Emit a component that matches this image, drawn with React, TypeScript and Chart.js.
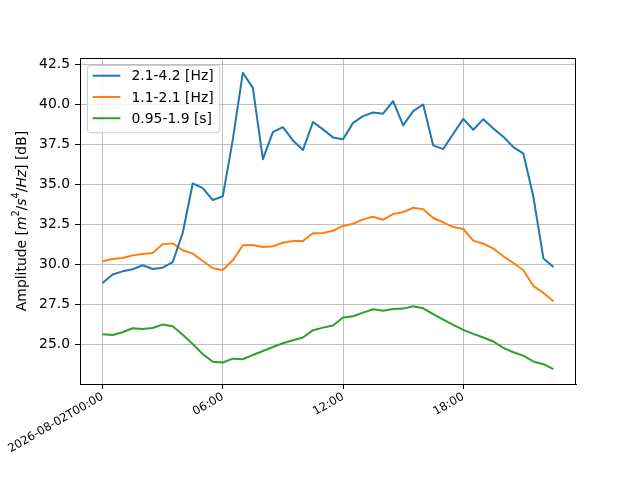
import { useEffect, useRef } from 'react';
import { Chart, registerables } from 'chart.js';

Chart.register(...registerables);

// sample times, every 30 min on 2026-08-02
const times = [
  '00:00', '00:30', '01:00', '01:30', '02:00', '02:30', '03:00', '03:30',
  '04:00', '04:30', '05:00', '05:30', '06:00', '06:30', '07:00', '07:30',
  '08:00', '08:30', '09:00', '09:30', '10:00', '10:30', '11:00', '11:30',
  '12:00', '12:30', '13:00', '13:30', '14:00', '14:30', '15:00', '15:30',
  '16:00', '16:30', '17:00', '17:30', '18:00', '18:30', '19:00', '19:30',
  '20:00', '20:30', '21:00', '21:30', '22:00', '22:30',
];

// 2.1-4.2 [Hz]
const bandHigh = [
  28.83, 29.36, 29.56, 29.69, 29.94, 29.71, 29.79, 30.14, 31.96, 35.06,
  34.77, 34.02, 34.25, 37.8, 41.98, 41.04, 36.58, 38.27, 38.58, 37.75,
  37.15, 38.9, 38.44, 37.94, 37.83, 38.85, 39.27, 39.5, 39.42, 40.21,
  38.69, 39.58, 40.0, 37.44, 37.21, 38.17, 39.1, 38.42, 39.08, 38.5,
  37.98, 37.33, 36.92, 34.21, 30.36, 29.83,
];

// 1.1-2.1 [Hz]
const bandMid = [
  30.19, 30.33, 30.4, 30.56, 30.64, 30.71, 31.25, 31.31, 30.88, 30.67,
  30.21, 29.75, 29.64, 30.25, 31.19, 31.21, 31.08, 31.13, 31.35, 31.46,
  31.46, 31.94, 31.96, 32.1, 32.4, 32.54, 32.81, 32.98, 32.79, 33.14,
  33.27, 33.54, 33.44, 32.9, 32.63, 32.33, 32.21, 31.48, 31.29, 30.98,
  30.5, 30.08, 29.63, 28.64, 28.21, 27.69,
];

// 0.95-1.9 [s]
const bandLow = [
  25.63, 25.58, 25.75, 26.0, 25.96, 26.02, 26.23, 26.13, 25.6, 25.02,
  24.38, 23.9, 23.86, 24.1, 24.06, 24.33, 24.58, 24.83, 25.06, 25.25,
  25.42, 25.88, 26.04, 26.17, 26.67, 26.75, 26.98, 27.19, 27.1, 27.21,
  27.23, 27.38, 27.25, 26.88, 26.54, 26.21, 25.9, 25.65, 25.42, 25.17,
  24.77, 24.5, 24.29, 23.92, 23.75, 23.44,
];

const seriesLabels = ['2.1-4.2 [Hz]', '1.1-2.1 [Hz]', '0.95-1.9 [s]'];
const seriesColors = ['#1f77b4', '#ff7f0e', '#2ca02c'];

const xTickHours = [0, 6, 12, 18];
const xTickLabels = ['2026-08-02T00:00', '06:00', '12:00', '18:00'];
const yTicks = [25, 27.5, 30, 32.5, 35, 37.5, 40, 42.5];

const FONT = '"DejaVu Sans", sans-serif';
const FS = 13.9;

const toHours = (t: string) => {
  const [h, m] = t.split(':').map(Number);
  return h + m / 60;
};

// full box round the plot area, like matplotlib spines
const framePlugin = {
  id: 'frame',
  afterDatasetsDraw(chart: any) {
    const { ctx, chartArea: a } = chart;
    ctx.save();
    ctx.strokeStyle = '#000';
    ctx.lineWidth = 1;
    ctx.strokeRect(Math.round(a.left) + 0.5, Math.round(a.top) + 0.5,
      Math.round(a.right - a.left) - 1, Math.round(a.bottom - a.top));
    ctx.restore();
  },
};

// legend in the upper left corner of the plot
const legendPlugin = {
  id: 'insideLegend',
  afterDraw(chart: any) {
    const { ctx, chartArea: a } = chart;
    const sets = chart.data.datasets;
    ctx.save();
    ctx.font = `${FS}px ${FONT}`;
    const textW = Math.max(...sets.map((d: any) => ctx.measureText(d.label).width));
    const pad = 0.4 * FS;
    const handle = 2 * FS;
    const gap = 0.8 * FS;
    const step = 1.53 * FS;
    const x0 = a.left + 7;
    const y0 = a.top + 7;
    const w = pad + handle + gap + textW + pad;
    const h = 4.84 * FS;
    ctx.beginPath();
    ctx.roundRect(Math.round(x0) + 0.5, Math.round(y0) + 0.5, w, h, 2.8);
    ctx.fillStyle = 'rgba(255,255,255,0.8)';
    ctx.fill();
    ctx.strokeStyle = '#cccccc';
    ctx.lineWidth = 1;
    ctx.stroke();
    ctx.textAlign = 'left';
    ctx.textBaseline = 'middle';
    sets.forEach((d: any, i: number) => {
      const cy = y0 + 10.7 + i * step;
      ctx.beginPath();
      ctx.moveTo(x0 + pad, cy);
      ctx.lineTo(x0 + pad + handle, cy);
      ctx.strokeStyle = d.borderColor;
      ctx.lineWidth = 2;
      ctx.stroke();
      ctx.fillStyle = '#000';
      ctx.fillText(d.label, x0 + pad + handle + gap, cy + 1);
    });
    ctx.restore();
  },
};

// y axis title with mathtext-like italics and superscripts
const yTitleParts = [
  { t: 'Amplitude [', s: 'n' },
  { t: 'm', s: 'i' },
  { t: '2', s: 'sup' },
  { t: '/', s: 'n' },
  { t: 's', s: 'i' },
  { t: '4', s: 'sup' },
  { t: '/', s: 'n' },
  { t: 'Hz', s: 'i' },
  { t: '] [dB]', s: 'n' },
];

const yTitlePlugin = {
  id: 'yTitle',
  afterDraw(chart: any) {
    const { ctx, chartArea: a } = chart;
    const fontOf = (s: string) =>
      s === 'i' ? `italic ${FS}px ${FONT}` : s === 'sup' ? `${FS * 0.7}px ${FONT}` : `${FS}px ${FONT}`;
    ctx.save();
    let total = 0;
    const widths = yTitleParts.map((p) => {
      ctx.font = fontOf(p.s);
      const wd = ctx.measureText(p.t).width;
      total += wd;
      return wd;
    });
    ctx.translate(a.left - 58, (a.top + a.bottom) / 2);
    ctx.rotate(-Math.PI / 2);
    ctx.fillStyle = '#000';
    ctx.textBaseline = 'middle';
    ctx.textAlign = 'left';
    let x = -total / 2;
    yTitleParts.forEach((p, i) => {
      ctx.font = fontOf(p.s);
      ctx.fillText(p.t, x, p.s === 'sup' ? -0.38 * FS : 0);
      x += widths[i];
    });
    ctx.restore();
  },
};

export default function App() {
  const canvasRef = useRef<HTMLCanvasElement>(null);
  const chartRef = useRef<Chart | null>(null);

  useEffect(() => {
    if (!canvasRef.current) return;
    if (chartRef.current) chartRef.current.destroy();

    const hours = times.map(toHours);
    const allValues = [...bandHigh, ...bandMid, ...bandLow];
    const yLo = Math.min(...allValues);
    const yHi = Math.max(...allValues);
    const xLo = hours[0];
    const xHi = hours[hours.length - 1];
    const yM = (yHi - yLo) * 0.05;
    const xM = (xHi - xLo) * 0.05;

    const series = [bandHigh, bandMid, bandLow];

    chartRef.current = new Chart(canvasRef.current, {
      type: 'line',
      data: {
        datasets: series.map((vals, i) => ({
          label: seriesLabels[i],
          data: vals.map((v, j) => ({ x: hours[j], y: v })),
          borderColor: seriesColors[i],
          backgroundColor: seriesColors[i],
          borderWidth: 2,
          pointRadius: 0,
          tension: 0,
          borderJoinStyle: 'round' as const,
        })),
      },
      options: {
        animation: false,
        responsive: false,
        layout: { padding: { top: 58, right: 64, left: 0, bottom: 0 } },
        plugins: {
          legend: { display: false },
          tooltip: { enabled: false },
        },
        scales: {
          x: {
            type: 'linear',
            min: xLo - xM,
            max: xHi + xM,
            afterBuildTicks: (scale: any) => {
              scale.ticks = xTickHours.map((v) => ({ value: v }));
            },
            afterFit: (scale: any) => {
              scale.height = 96;
              scale.paddingLeft = 0;
              scale.paddingRight = 0;
            },
            ticks: {
              autoSkip: false,
              minRotation: 30,
              maxRotation: 30,
              padding: 1,
              color: '#000',
              font: { family: FONT, size: 11.6 },
              callback: (value: any) => xTickLabels[xTickHours.indexOf(Number(value))],
            },
            grid: { color: '#b0b0b0', lineWidth: 0.8, tickColor: '#000', tickLength: 5, tickWidth: 1 },
            border: { color: '#000', width: 1 },
          },
          y: {
            type: 'linear',
            min: yLo - yM,
            max: yHi + yM,
            afterBuildTicks: (scale: any) => {
              scale.ticks = yTicks.map((v) => ({ value: v }));
            },
            afterFit: (scale: any) => {
              scale.width = 80;
              scale.paddingTop = 0;
              scale.paddingBottom = 0;
            },
            ticks: {
              padding: 5,
              color: '#000',
              font: { family: FONT, size: FS },
              callback: (value: any) => Number(value).toFixed(1),
            },
            grid: { color: '#b0b0b0', lineWidth: 0.8, tickColor: '#000', tickLength: 5, tickWidth: 1 },
            border: { color: '#000', width: 1 },
          },
        },
      },
      plugins: [framePlugin, legendPlugin, yTitlePlugin],
    });

    return () => {
      if (chartRef.current) {
        chartRef.current.destroy();
        chartRef.current = null;
      }
    };
  }, []);

  return (
    <div style={{ position: 'absolute', left: 0, top: 0, width: 640, height: 480, background: '#fff' }}>
      <canvas ref={canvasRef} width={640} height={480} />
    </div>
  );
}
